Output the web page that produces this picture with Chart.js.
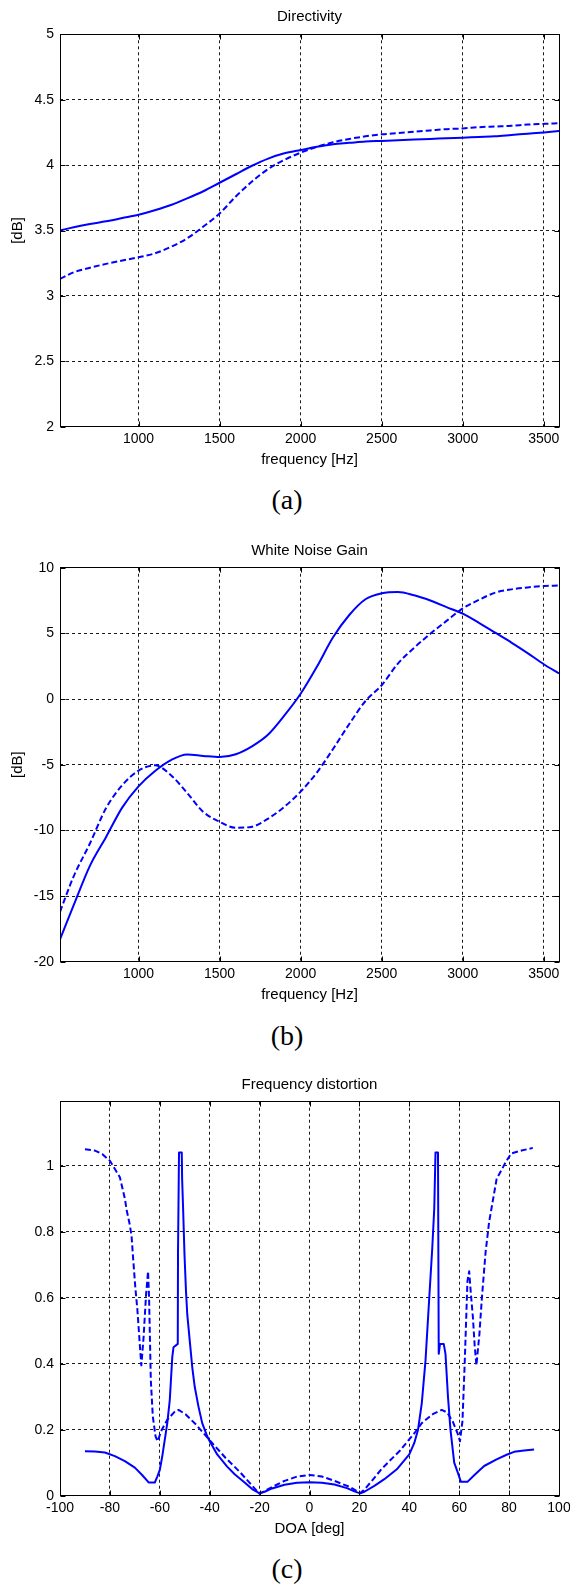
<!DOCTYPE html>
<html>
<head>
<meta charset="utf-8">
<script src="https://cdn.jsdelivr.net/npm/chart.js@4.4.0/dist/chart.umd.min.js"></script>
<style>
html,body{margin:0;padding:0;background:#fff;}
#page{position:relative;width:570px;height:1587px;overflow:hidden;background:#fff;}
canvas{position:absolute;left:0;}
.cap{position:absolute;left:0;width:574px;text-align:center;font-family:'Liberation Serif','Times New Roman',serif;font-size:28px;line-height:32px;color:#000;z-index:2;}
</style>
</head>
<body>
<div id="page">
  <canvas id="c1" width="570" height="470" style="top:0px;width:570px;height:470px"></canvas>
  <div class="cap" style="top:484px">(a)</div>
  <canvas id="c2" width="570" height="490" style="top:520px;width:570px;height:490px"></canvas>
  <div class="cap" style="top:1020px">(b)</div>
  <canvas id="c3" width="570" height="480" style="top:1060px;width:570px;height:480px"></canvas>
  <div class="cap" style="top:1553px">(c)</div>
</div>
<script>
// ---------- DATA ----------
// Frequency axis (Hz) shared by charts (a) and (b)
const freq = [515.625, 600, 700, 800, 900, 1000, 1100, 1200, 1300, 1400, 1500, 1600, 1700, 1800, 1900, 2000,
              2100, 2200, 2300, 2400, 2500, 2600, 2700, 2800, 2900, 3000, 3100, 3200, 3300, 3400, 3500, 3593.75];

// (a) Directivity [dB]
const dirSolid  = [3.50, 3.525, 3.55, 3.57, 3.595, 3.62, 3.655, 3.695, 3.745, 3.80, 3.865, 3.93, 3.995, 4.05, 4.09, 4.115,
                   4.14, 4.16, 4.17, 4.18, 4.185, 4.19, 4.195, 4.20, 4.205, 4.21, 4.215, 4.22, 4.23, 4.24, 4.25, 4.26];
const dirDashed = [3.13, 3.18, 3.215, 3.245, 3.27, 3.295, 3.325, 3.375, 3.44, 3.53, 3.63, 3.76, 3.875, 3.97, 4.04, 4.095,
                   4.14, 4.175, 4.20, 4.22, 4.235, 4.245, 4.255, 4.265, 4.275, 4.28, 4.29, 4.295, 4.30, 4.31, 4.315, 4.32];

// (b) White Noise Gain [dB]
const wngSolid  = [-18.3, -15.7, -12.7, -10.5, -8.25, -6.65, -5.5, -4.65, -4.22, -4.33, -4.42, -4.2, -3.6, -2.7, -1.25, 0.4,
                   2.45, 4.7, 6.4, 7.6, 8.05, 8.15, 7.9, 7.5, 7.0, 6.5, 5.8, 5.05, 4.3, 3.5, 2.65, 1.95];
const wngDashed = [-16.2, -13.5, -11.0, -8.3, -6.55, -5.45, -5.05, -5.8, -7.15, -8.6, -9.35, -9.8, -9.72, -9.1, -8.2, -7.05,
                   -5.6, -3.8, -1.9, -0.15, 1.05, 2.7, 3.9, 4.97, 5.95, 6.9, 7.55, 8.1, 8.35, 8.5, 8.6, 8.65];

// (c) Frequency distortion vs DOA [deg]
const doaSolid = [-90, -86, -82, -78, -74, -70, -67, -65, -64.5, -62, -61, -60, -59, -58, -57, -56, -55, -54.5, -52.8,
                  -52.7, -52.3, -51.2, -51.05, -50.7, -50.1, -49.5, -49, -48, -47, -46, -44.5, -43, -41, -40, -37, -33,
                  -30, -26, -23, -20, -18, -15, -10, -5, 0, 5, 10, 15, 18, 20.3, 22, 26, 30, 35, 40, 42, 43.5, 45,
                  46.5, 48, 49.2, 50, 50.5, 51.5, 51.8, 52.3, 53.8, 54.5, 55.5, 56.5, 58, 59.3, 60.7, 63.3, 66, 70,
                  75, 79, 82, 86, 90];
const fdSolid  = [0.135, 0.134, 0.131, 0.12, 0.105, 0.085, 0.062, 0.045, 0.04, 0.04, 0.058, 0.078, 0.12, 0.17, 0.22, 0.29, 0.42, 0.45, 0.46,
                  0.74, 1.04, 1.04, 0.96, 0.88, 0.73, 0.62, 0.55, 0.47, 0.39, 0.33, 0.27, 0.22, 0.18, 0.165, 0.125, 0.088,
                  0.065, 0.04, 0.02, 0.007, 0.012, 0.022, 0.033, 0.039, 0.041, 0.039, 0.034, 0.023, 0.013, 0.007, 0.012, 0.03, 0.05, 0.08, 0.125, 0.16, 0.2, 0.28,
                  0.41, 0.6, 0.75, 0.87, 1.04, 1.04, 0.43, 0.46, 0.46, 0.43, 0.3, 0.2, 0.1, 0.073, 0.042, 0.042, 0.062, 0.09,
                  0.11, 0.124, 0.133, 0.137, 0.14];
const doaDashed = [-90, -86, -83, -80, -78, -76, -74, -73.3, -72, -71.3, -70.7, -69.8, -69, -68.4, -67.9, -67.4, -66.5, -65.5,
                   -64.7, -64.3, -63.6, -62.8, -61.7, -60.9, -59.2, -57, -54, -52.5, -49.7, -45.3, -40.2, -33.7, -27.8,
                   -22, -20, -17.6, -14, -10, -5, 0, 5, 10, 16, 20.3, 21.7, 25, 29, 36.3, 42.1, 45, 49.4, 53, 55.2,
                   57.4, 59.3, 60.3, 61.3, 62.2, 63.3, 64, 64.7, 65.5, 66.2, 66.9, 68.1, 69.1, 70.6, 72, 75, 78.6, 80.8,
                   85, 89.5];
const fdDashed  = [1.05, 1.046, 1.035, 1.015, 0.99, 0.965, 0.9, 0.866, 0.82, 0.785, 0.72, 0.63, 0.565, 0.5, 0.445, 0.395, 0.48, 0.61,
                   0.68, 0.6, 0.35, 0.24, 0.18, 0.165, 0.2, 0.23, 0.255, 0.26, 0.247, 0.214, 0.17, 0.115, 0.071,
                   0.022, 0.006, 0.016, 0.03, 0.045, 0.058, 0.063, 0.058, 0.045, 0.027, 0.008, 0.016, 0.045, 0.082, 0.137, 0.19, 0.22, 0.247, 0.26, 0.252,
                   0.225, 0.19, 0.165, 0.225, 0.4, 0.65, 0.68, 0.61, 0.54, 0.455, 0.395, 0.49, 0.6, 0.74, 0.83, 0.96, 1.01, 1.037,
                   1.046, 1.054];

// Tick values and labels
const freqTicks = [1000, 1500, 2000, 2500, 3000, 3500];
const freqTickLabels = ['1000', '1500', '2000', '2500', '3000', '3500'];
const dirTicks = [2, 2.5, 3, 3.5, 4, 4.5, 5];
const dirTickLabels = ['2', '2.5', '3', '3.5', '4', '4.5', '5'];
const wngTicks = [-20, -15, -10, -5, 0, 5, 10];
const wngTickLabels = ['-20', '-15', '-10', '-5', '0', '5', '10'];
const doaTicks = [-100, -80, -60, -40, -20, 0, 20, 40, 60, 80, 100];
const doaTickLabels = ['-100', '-80', '-60', '-40', '-20', '0', '20', '40', '60', '80', '100'];
const fdTicks = [0, 0.2, 0.4, 0.6, 0.8, 1];
const fdTickLabels = ['0', '0.2', '0.4', '0.6', '0.8', '1'];

// ---------- RENDERING ----------
Chart.defaults.font.family = "'Liberation Sans', Arial, Helvetica, sans-serif";
Chart.defaults.color = '#000';

const framePlugin = {
  id: 'frame',
  afterDraw(chart, args, opts) {
    const ctx = chart.ctx, a = chart.chartArea;
    const l = Math.floor(a.left) + 0.5, r = Math.floor(a.right) + 0.5;
    const t = Math.floor(a.top) + 0.5, b = Math.floor(a.bottom) + 0.5;
    ctx.save();
    ctx.strokeStyle = '#000';
    ctx.lineWidth = 1;
    ctx.setLineDash([]);
    ctx.strokeRect(l, t, r - l, b - t);
    const tl = 5;
    ctx.beginPath();
    const xs = chart.scales.x, ys = chart.scales.y;
    xs.ticks.forEach(tk => {
      const p = Math.round(xs.getPixelForValue(tk.value)) + 0.5;
      ctx.moveTo(p, b); ctx.lineTo(p, b - tl);
      ctx.moveTo(p, t); ctx.lineTo(p, t + tl);
    });
    ys.ticks.forEach(tk => {
      const p = Math.round(ys.getPixelForValue(tk.value)) + 0.5;
      ctx.moveTo(l, p); ctx.lineTo(l + tl, p);
      ctx.moveTo(r, p); ctx.lineTo(r - tl, p);
    });
    ctx.stroke();
    if (opts.title) {
      ctx.fillStyle = '#000';
      ctx.font = "15px 'Liberation Sans', Arial, sans-serif";
      ctx.textAlign = 'center';
      ctx.textBaseline = 'middle';
      ctx.fillText(opts.title, (a.left + a.right) / 2, a.top - 17.3);
    }
    ctx.restore();
  }
};

function axis(min, max, ticks, labels, title, isX, titlePad) {
  return {
    type: 'linear', min: min, max: max,
    afterBuildTicks: s => { s.ticks = ticks.map(v => ({ value: v })); },
    afterFit: s => {
      if (isX) { s.height = 42; } else { s.width = 60; }
      s.paddingLeft = 0; s.paddingRight = 0; s.paddingTop = 0; s.paddingBottom = 0;
    },
    ticks: {
      autoSkip: false, maxRotation: 0, minRotation: 0,
      padding: isX ? 4 : 6, color: '#000', font: { size: 14 },
      callback: (v, i) => labels[i]
    },
    grid: { color: '#1a1a1a', lineWidth: 1, drawTicks: false },
    border: { display: false, dash: [3, 3] },
    title: { display: !!title, text: title || '', color: '#000', font: { size: 15 },
             padding: titlePad }
  };
}

function line(xs, ys, dashed) {
  return {
    data: xs.map((x, i) => ({ x: x, y: ys[i] })),
    borderColor: '#0000ff', backgroundColor: '#0000ff',
    borderWidth: 2, borderDash: dashed ? [6, 3] : [],
    pointRadius: 0, fill: false
  };
}

function makeChart(id, title, datasets, xAxis, yAxis, pad, smooth) {
  datasets.forEach(d => {
    if (smooth) d.cubicInterpolationMode = 'monotone'; else d.tension = 0;
  });
  return new Chart(document.getElementById(id), {
    type: 'line',
    data: { datasets: datasets },
    options: {
      responsive: false, animation: false, devicePixelRatio: 1,
      layout: { padding: pad },
      scales: { x: xAxis, y: yAxis },
      plugins: { legend: { display: false }, tooltip: { enabled: false }, title: { display: false },
                 frame: { title: title } },
      elements: { line: { borderCapStyle: 'butt', borderJoinStyle: 'round' } }
    },
    plugins: [framePlugin]
  });
}

makeChart('c1', 'Directivity',
  [line(freq, dirSolid, false), line(freq, dirDashed, true)],
  axis(515.625, 3593.75, freqTicks, freqTickLabels, 'frequency [Hz]', true, { top: 0, bottom: 0 }),
  axis(2, 5, dirTicks, dirTickLabels, '[dB]', false, { top: 9.2, bottom: 0 }),
  { top: 34.3, left: 0, right: 11, bottom: 470 - 426.7 - 42 }, true);

makeChart('c2', 'White Noise Gain',
  [line(freq, wngSolid, false), line(freq, wngDashed, true)],
  axis(515.625, 3593.75, freqTicks, freqTickLabels, 'frequency [Hz]', true, { top: 0, bottom: 0 }),
  axis(-20, 10, wngTicks, wngTickLabels, '[dB]', false, { top: 9.2, bottom: 0 }),
  { top: 567.7 - 520, left: 0, right: 11, bottom: 490 - (961.7 - 520) - 42 }, true);

makeChart('c3', 'Frequency distortion',
  [line(doaSolid, fdSolid, false), line(doaDashed, fdDashed, true)],
  axis(-100, 100, doaTicks, doaTickLabels, 'DOA [deg]', true, { top: 0, bottom: 0 }),
  axis(0, 1.194, fdTicks, fdTickLabels, '', false, { top: 0, bottom: 0 }),
  { top: 1101.7 - 1060, left: 0, right: 11, bottom: 480 - (1495.7 - 1060) - 42 }, false);
</script>
</body>
</html>
